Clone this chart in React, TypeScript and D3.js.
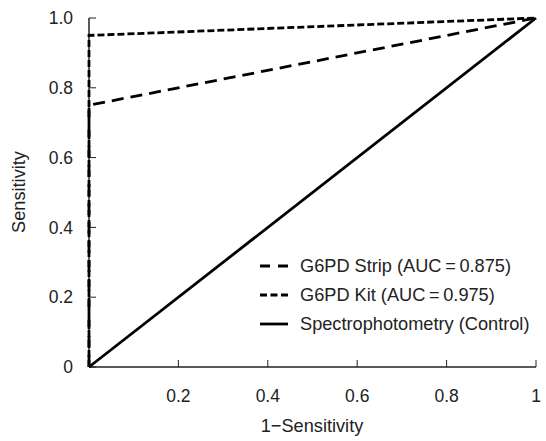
import React from "react";
import * as d3 from "d3";

const stripX = [0, 0, 1];
const stripY = [0, 0.75, 1];
const kitX = [0, 0, 1];
const kitY = [0, 0.95, 1];
const controlX = [0, 1];
const controlY = [0, 1];
const xTicks = [0.2, 0.4, 0.6, 0.8, 1];
const xTickLabels = ["0.2", "0.4", "0.6", "0.8", "1"];
const yTicks = [0, 0.2, 0.4, 0.6, 0.8, 1.0];
const yTickLabels = ["0", "0.2", "0.4", "0.6", "0.8", "1.0"];
const seriesNames = ["G6PD Strip (AUC\u2009=\u20090.875)", "G6PD Kit (AUC\u2009=\u20090.975)", "Spectrophotometry (Control)"];
const seriesDash = ["12,7", "7,3", "none"];
const legendDash = ["10,8", "7,3.5", "none"];

export default function App() {
  const W = 546, H = 441;
  const x = d3.scaleLinear().domain([0, 1]).range([89, 536]);
  const y = d3.scaleLinear().domain([0, 1]).range([367, 18]);
  const line = d3.line<[number, number]>().x(d => x(d[0])).y(d => y(d[1]));
  const pts = (xs: number[], ys: number[]) => xs.map((v, i) => [v, ys[i]] as [number, number]);
  const series = [pts(stripX, stripY), pts(kitX, kitY), pts(controlX, controlY)];
  const font = "'Liberation Sans', Arial, sans-serif";
  const col = "#222";
  const fs = 17.5;
  const fl = 18.2;
  return (
    <svg width={W} height={H} style={{ position: "absolute", left: 0, top: 0, background: "#fff" }} fontFamily={font}>
      <line x1={x(0)} x2={x(0)} y1={y(1)} y2={y(0)} stroke={col} strokeWidth={1.5} />
      <line x1={x(0)} x2={x(1)} y1={y(0)} y2={y(0)} stroke={col} strokeWidth={1.5} />
      {yTicks.map((t, i) => (
        <g key={"y" + i}>
          <line x1={x(0)} x2={x(0) + 7} y1={y(t)} y2={y(t)} stroke={col} strokeWidth={1} />
          <text x={73} y={y(t)} dy="0.35em" textAnchor="end" fontSize={fs} fill={col}>{yTickLabels[i]}</text>
        </g>
      ))}
      {xTicks.map((t, i) => (
        <g key={"x" + i}>
          <line x1={x(t)} x2={x(t)} y1={y(0)} y2={y(0) - 7} stroke={col} strokeWidth={1} />
          <text x={x(t)} y={396} dy="0.35em" textAnchor="middle" fontSize={fs} fill={col}>{xTickLabels[i]}</text>
        </g>
      ))}
      <text x={312} y={426} dy="0.35em" textAnchor="middle" fontSize={fl} fill={col}>1{"\u2212"}Sensitivity</text>
      <text transform={`translate(19,${192}) rotate(-90)`} textAnchor="middle" dy="0.35em" fontSize={fl} fill={col}>Sensitivity</text>
      {series.map((s, i) => (
        <path key={"s" + i} d={line(s) || ""} fill="none" stroke="#000" strokeWidth={2.8}
          strokeDasharray={seriesDash[i] === "none" ? undefined : seriesDash[i]} />
      ))}
      {seriesNames.map((n, i) => {
        const ly = 266 + i * 29;
        return (
          <g key={"l" + i}>
            <line x1={260} x2={288} y1={ly} y2={ly} stroke="#000" strokeWidth={2.8}
              strokeDasharray={legendDash[i] === "none" ? undefined : legendDash[i]} />
            <text x={300} y={ly} dy="0.35em" fontSize={fl} fill={col}>{n}</text>
          </g>
        );
      })}
    </svg>
  );
}
